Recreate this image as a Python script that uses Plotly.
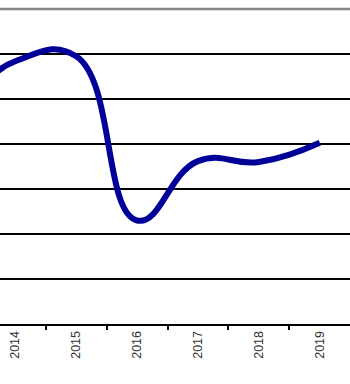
import plotly.graph_objects as go

years = ["2012", "2013", "2014", "2015", "2016", "2017", "2018", "2019"]
values = [10.2, 9.8, 11.68, 11.9, 4.6, 7.24, 7.2, 8.06]
grid_vals = [2, 4, 6, 8, 10, 12]

fig = go.Figure()
fig.add_trace(go.Scatter(
    x=years, y=values, mode="lines",
    line=dict(color="#000099", width=6, shape="spline", smoothing=1.3),
    hoverinfo="skip", showlegend=False,
))

fig.update_layout(
    width=350, height=384,
    margin=dict(l=0, r=0, t=9, b=60),
    paper_bgcolor="white", plot_bgcolor="white",
    font=dict(family="Arial, Liberation Sans, sans-serif", size=12.5, color="#333333"),
    xaxis=dict(
        type="category", range=[1.749, 7.496],
        tickson="boundaries", ticks="outside", ticklen=4, tickwidth=1.5, tickcolor="#000000",
        showline=True, linecolor="#000000", linewidth=2,
        showgrid=False, tickangle=-90,
        tickfont=dict(family="Arial, Liberation Sans, sans-serif", size=12.5, color="#333333"),
    ),
    yaxis=dict(
        range=[0, 14], tickvals=grid_vals, showticklabels=False,
        showgrid=True, gridcolor="#000000", gridwidth=1.5,
        zeroline=False, showline=False, ticks="",
    ),
    shapes=[dict(type="line", xref="paper", yref="paper", x0=0, x1=1, y0=1, y1=1,
                 line=dict(color="#858585", width=2.5))],
)

fig.write_html("out.html")
